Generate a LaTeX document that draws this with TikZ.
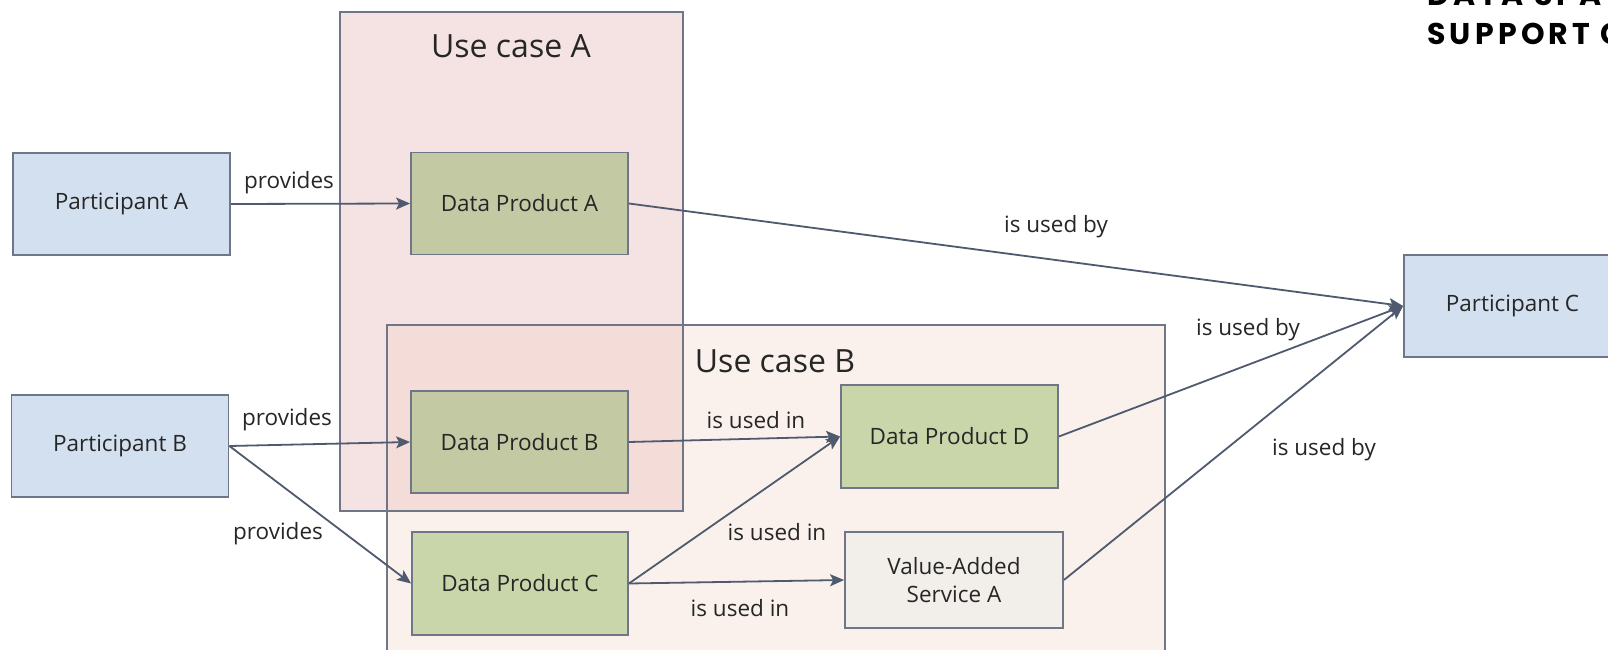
\documentclass[tikz,border=0pt]{standalone}
\usepackage{fontspec}
\setmainfont{Open Sans}
\newfontfamily\titlefont[LetterSpace=14]{Poppins}
\usetikzlibrary{arrows.meta}
\definecolor{pblue}{HTML}{D3E0EF}
\definecolor{greenA}{HTML}{C3C9A3}
\definecolor{greenC}{HTML}{C8D6AA}
\definecolor{vasfill}{HTML}{F2EFEB}
\definecolor{ucafill}{HTML}{F4E3E2}
\definecolor{ucbfill}{HTML}{FAF1EC}
\definecolor{ovfill}{HTML}{F4DDD8}
\definecolor{edgecol}{HTML}{6E7687}
\definecolor{arrcol}{HTML}{4F5A6E}
\definecolor{txt}{HTML}{262626}
\tikzset{
  box/.style={draw=edgecol, line width=1.8pt, minimum width=217pt, minimum height=102pt, inner sep=0pt, text=txt, font=\fontsize{22.5}{28}\selectfont, align=center},
  partbox/.style={box, fill=pblue},
  dpa/.style={box, fill=greenA},
  dpc/.style={box, fill=greenC},
  vasbox/.style={box, fill=vasfill},
  conn/.style={draw=arrcol, line width=1.8pt, -{Stealth[length=14pt,width=12pt,inset=3pt]}},
  lbl/.style={text=txt, font=\fontsize{22.5}{28}\selectfont, inner sep=0pt},
  uctitle/.style={text=txt, font=\fontsize{32}{38}\selectfont, inner sep=0pt},
  frame/.style={draw=edgecol, line width=1.6pt}
}
\begin{document}
\begin{tikzpicture}[x=1pt,y=-1pt]
\useasboundingbox (0,0) rectangle (1608,650);
\clip (0,0) rectangle (1608,650);
\fill[white] (0,0) rectangle (1608,650);
% use case fills
\fill[ucafill] (340,12) rectangle (683,511);
\fill[ucbfill] (387,325) rectangle (1165,670);
\fill[ovfill] (387,325) rectangle (683,511);
\draw[frame] (340,12) rectangle (683,511);
\draw[frame] (387,325) rectangle (1165,670);
\node[uctitle] (uca) at (511,46) {Use case A};
\node[uctitle] (ucb) at (775,361) {Use case B};
% heading (cut off)
\node[anchor=base west, inner sep=0pt, font=\titlefont\bfseries\fontsize{30}{36}\selectfont] (h1) at (1427,6) {DATA SPAC};
\node[anchor=base west, inner sep=0pt, font=\titlefont\bfseries\fontsize{30}{36}\selectfont] (h2) at (1427,45) {SUPPORT C};
% nodes
\node[partbox] (PA) at (121.5,204) {Participant A};
\node[partbox] (PB) at (120,446) {Participant B};
\node[partbox] (PC) at (1512.5,306) {Participant C};
\node[dpa] (DPA) at (519.5,203.5) {Data Product A};
\node[dpa] (DPB) at (519.5,442) {Data Product B};
\node[dpc, minimum width=216pt, minimum height=103pt] (DPC) at (520,583.5) {Data Product C};
\node[dpc, minimum height=103pt] (DPD) at (949.5,436.5) {Data Product D};
\node[vasbox, minimum width=218pt, minimum height=96pt] (VAS) at (954,580) {Value-Added\\Service A};
% connectors
\draw[conn] (PA.east) -- (DPA.west);
\draw[conn] (PB.east) -- (DPB.west);
\draw[conn] (PB.east) -- (DPC.west);
\draw[conn] (DPB.east) -- (DPD.west);
\draw[conn] (DPC.east) -- (DPD.west);
\draw[conn] (DPC.east) -- (VAS.west);
\draw[conn] (DPA.east) -- (PC.west);
\draw[conn] (DPD.east) -- (PC.west);
\draw[conn] (VAS.east) -- (PC.west);
% labels
\node[lbl] (l1) at (289,183) {provides};
\node[lbl] (l2) at (287,420) {provides};
\node[lbl] (l3) at (278,534) {provides};
\node[lbl] (l4) at (1056,227) {is used by};
\node[lbl] (l5) at (1248,330) {is used by};
\node[lbl] (l6) at (1324,450) {is used by};
\node[lbl] (l7) at (756,420) {is used in};
\node[lbl] (l8) at (777,532) {is used in};
\node[lbl] (l9) at (740,608) {is used in};
\end{tikzpicture}
\end{document}
